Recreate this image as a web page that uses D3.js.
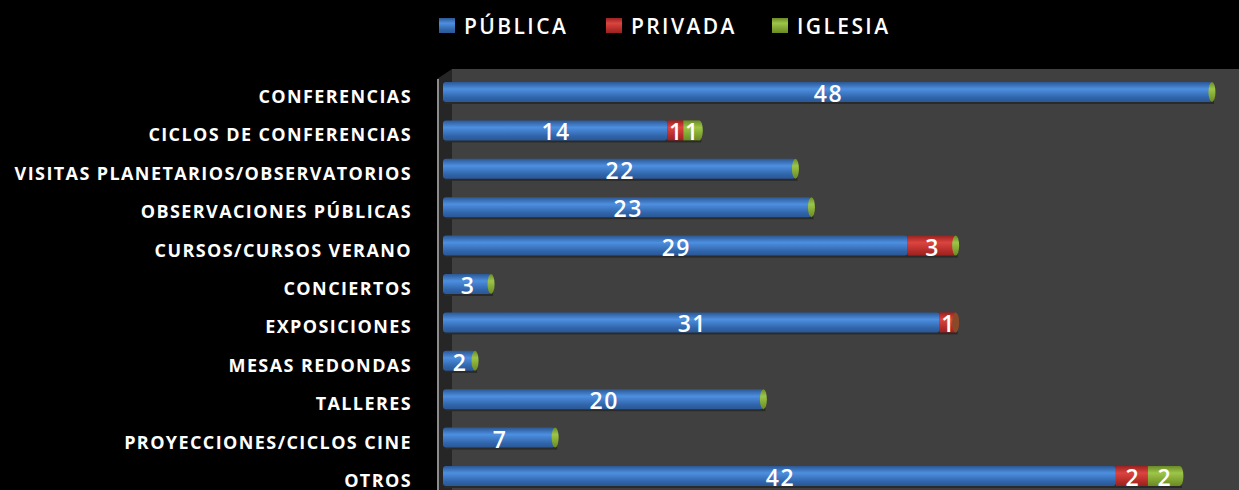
<!DOCTYPE html>
<meta charset="utf-8">
<html>
<style>
body { margin: 0; background: #000; }
.cat { font: bold 18px "Open Sans", sans-serif; fill: #fff; text-anchor: end; letter-spacing: 1.4px; }
.val { font: 600 23px "Open Sans", sans-serif; fill: #fff; text-anchor: middle; letter-spacing: 1.5px; }
.leg { font: 600 21px "Open Sans", sans-serif; fill: #fff; letter-spacing: 2.4px; }
</style>
<svg width="1239" height="490"></svg>
<script src="https://d3js.org/d3.v7.min.js"></script>
<script>
var categories = ["CONFERENCIAS", "CICLOS DE CONFERENCIAS", "VISITAS PLANETARIOS/OBSERVATORIOS",
  "OBSERVACIONES PÚBLICAS", "CURSOS/CURSOS VERANO", "CONCIERTOS", "EXPOSICIONES",
  "MESAS REDONDAS", "TALLERES", "PROYECCIONES/CICLOS CINE", "OTROS"];
var series = ["PÚBLICA", "PRIVADA", "IGLESIA"];
var publica = [48, 14, 22, 23, 29, 3, 31, 2, 20, 7, 42];
var privada = [0, 1, 0, 0, 3, 0, 1, 0, 0, 0, 2];
var iglesia = [0, 1, 0, 0, 0, 0, 0, 0, 0, 0, 2];

var colors = {
  "PÚBLICA": ["#2b5794", "#4d8fe0", "#2f63a8"],
  "PRIVADA": ["#9a2220", "#dc4440", "#b02a27"],
  "IGLESIA": ["#6a8a24", "#9cc648", "#7a9c2c"]
};

var svg = d3.select("svg");
var width = 1239, height = 490;

svg.append("rect").attr("width", width).attr("height", height).attr("fill", "#000");

var rows = categories.map(function (c, i) {
  return { cat: c, "PÚBLICA": publica[i], "PRIVADA": privada[i], "IGLESIA": iglesia[i] };
});
var stacked = d3.stack().keys(series)(rows);

var x = d3.scaleLinear().domain([0, 50]).range([443, 1244]);
var y = d3.scalePoint().domain(categories).range([92, 476]);
var barH = 20;

// gradients
var defs = svg.append("defs");
series.forEach(function (s, i) {
  var g = defs.append("linearGradient").attr("id", "g" + i)
    .attr("x1", 0).attr("y1", 0).attr("x2", 0).attr("y2", 1);
  g.append("stop").attr("offset", "0%").attr("stop-color", colors[s][0]);
  g.append("stop").attr("offset", "35%").attr("stop-color", colors[s][1]);
  g.append("stop").attr("offset", "80%").attr("stop-color", colors[s][2]);
  g.append("stop").attr("offset", "100%").attr("stop-color", colors[s][0]);
});

// 3d walls
svg.append("rect").attr("x", 452).attr("y", 69).attr("width", width - 452).attr("height", height - 69)
  .attr("fill", "#404040");
svg.append("path").attr("d", "M437,79L452,69L452,490L437,490Z").attr("fill", "#262626");
svg.append("line").attr("x1", 438).attr("x2", 438).attr("y1", 79).attr("y2", 490)
  .attr("stroke", "#8c8c8c").attr("stroke-width", 2);

// category labels
svg.append("g").selectAll("text").data(categories).join("text")
  .attr("class", "cat")
  .attr("x", 412)
  .attr("y", function (d) { return y(d) + 11; })
  .text(function (d) { return d; });

// bar shadows
svg.append("g").selectAll("rect").data(rows).join("rect")
  .attr("x", x(0) + 2)
  .attr("y", function (d) { return y(d.cat) + barH / 2 - 2; })
  .attr("width", function (d, i) { return x(stacked[2][i][1]) - x(0); })
  .attr("height", 4)
  .attr("fill", "#2a2a2a");

// bars
var layer = svg.append("g").selectAll("g").data(stacked).join("g")
  .attr("fill", function (d, i) { return "url(#g" + i + ")"; });

layer.selectAll("rect").data(function (d) { return d; }).join("rect")
  .attr("x", function (d) { return x(d[0]); })
  .attr("y", function (d) { return y(d.data.cat) - barH / 2; })
  .attr("width", function (d) { return x(d[1]) - x(d[0]); })
  .attr("height", barH)
  .attr("rx", function (d) { return d[0] === 0 ? 3 : 0; });

// end caps
svg.append("g").selectAll("ellipse").data(rows).join("ellipse")
  .attr("cx", function (d, i) { return x(stacked[2][i][1]); })
  .attr("cy", function (d) { return y(d.cat); })
  .attr("rx", 3.5)
  .attr("ry", barH / 2)
  .attr("fill", function (d, i) { return i === 6 ? "#8a4a2a" : "url(#g2)"; });

// value labels
var labels = [];
stacked.forEach(function (s) {
  s.forEach(function (d) {
    if (d[1] - d[0] > 0) labels.push({ v: d[1] - d[0], mid: (d[0] + d[1]) / 2, cat: d.data.cat });
  });
});
svg.append("g").selectAll("text").data(labels).join("text")
  .attr("class", "val")
  .attr("x", function (d) { return x(d.mid) + 1; })
  .attr("y", function (d) { return y(d.cat) + 10; })
  .text(function (d) { return d.v; });

// legend
var legX = [439, 606, 772];
var leg = svg.append("g").selectAll("g").data(series).join("g")
  .attr("transform", function (d, i) { return "translate(" + legX[i] + ",18)"; });
leg.append("rect").attr("width", 16).attr("height", 15)
  .attr("fill", function (d, i) { return "url(#g" + i + ")"; });
leg.append("text").attr("class", "leg").attr("x", 25).attr("y", 16)
  .text(function (d) { return d; });
</script>
</html>
